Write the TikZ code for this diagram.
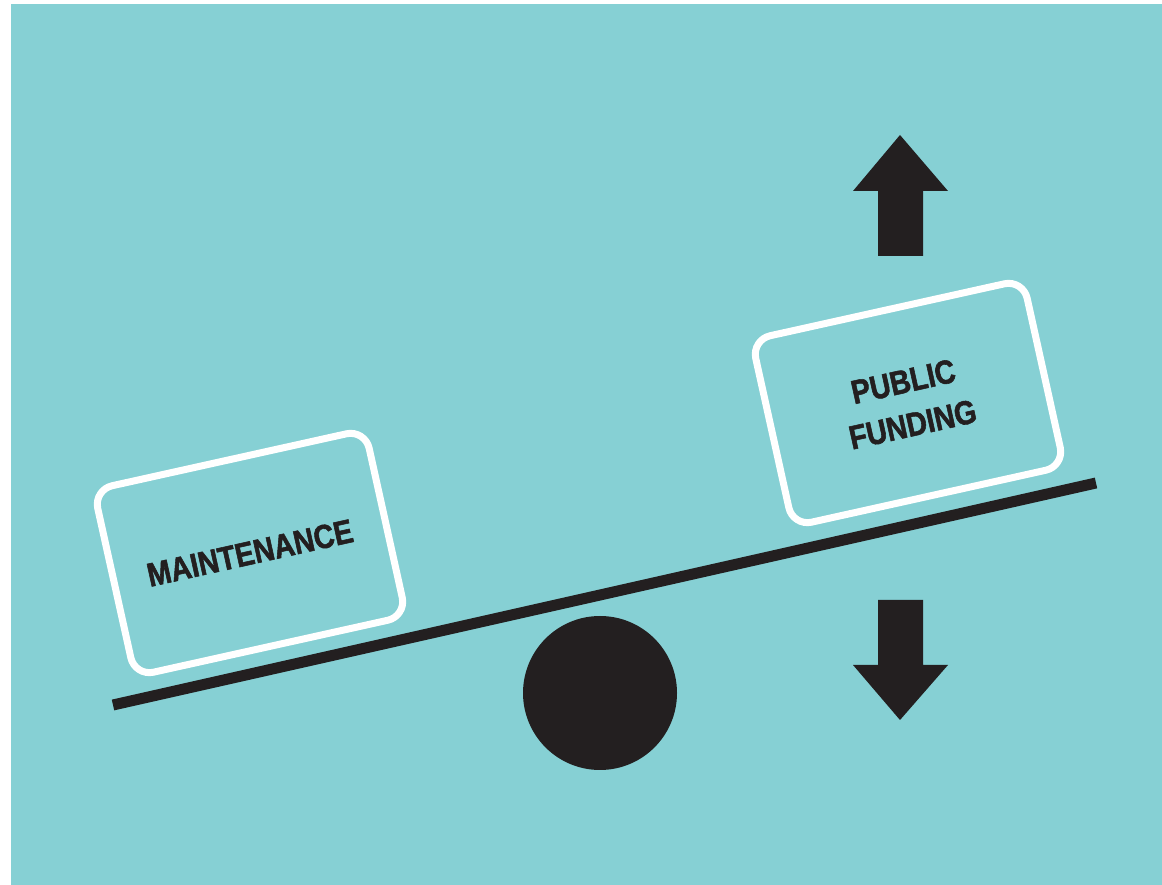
\documentclass[tikz,border=0pt]{standalone}
\usepackage{fontspec}
\newfontfamily\signfont[FakeStretch=0.85,FakeBold=1.6]{Liberation Sans}
\definecolor{seesawbg}{RGB}{134,208,212}
\definecolor{seesawink}{RGB}{35,31,32}
\tikzset{
  weightbox/.style={draw=white,line width=0.14cm,rounded corners=0.38cm,
    minimum width=5.56cm,minimum height=3.82cm,rotate=12.5,align=center,
    text=seesawink,font=\signfont\bfseries\fontsize{19}{25}\selectfont},
}
\begin{document}
\begin{tikzpicture}
            \useasboundingbox (0,0) rectangle (23.24,17.70);
            \fill[seesawbg] (0.22,0) rectangle (23.24,17.62);
            \draw[seesawink,line width=0.22cm] (2.26,3.60) -- (21.92,8.04);
            \node[circle,fill=seesawink,minimum size=3.08cm,inner sep=0pt] (fulcrum) at (12.0,3.84) {};
            \node[weightbox] (maint) at (5.0,6.64) {MAINTENANCE};
            \node[weightbox] (funding) at (18.16,9.64) {PUBLIC\\FUNDING};
            \fill[seesawink] (17.56,12.58) -- (17.56,13.88) -- (17.06,13.88) -- (18.0,15.0)
                -- (18.96,13.88) -- (18.46,13.88) -- (18.46,12.58) -- cycle;
            \fill[seesawink] (17.56,5.70) -- (17.56,4.40) -- (17.06,4.40) -- (18.0,3.30)
                -- (18.96,4.40) -- (18.46,4.40) -- (18.46,5.70) -- cycle;
        \end{tikzpicture}
\end{document}
